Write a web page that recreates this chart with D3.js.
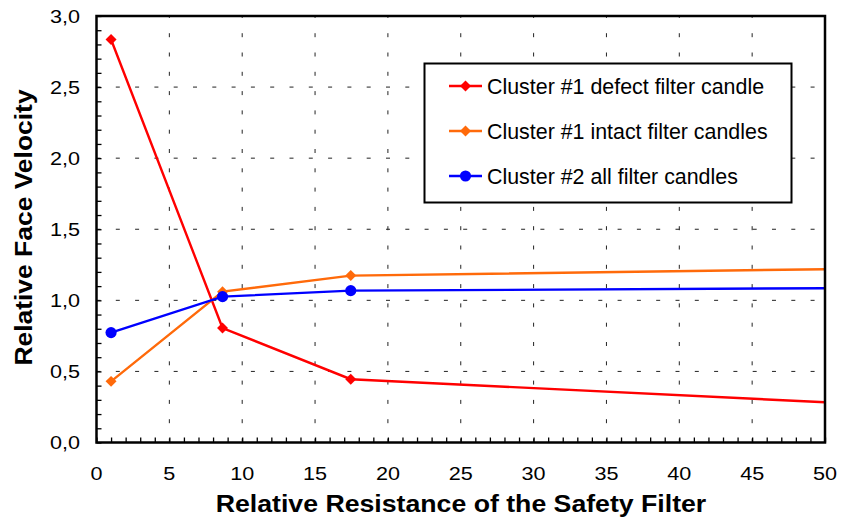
<!DOCTYPE html>
<html>
<head>
<meta charset="utf-8">
<script src="https://cdn.jsdelivr.net/npm/d3@7"></script>
<style>
  html, body { margin: 0; padding: 0; background: #fff; }
  svg { display: block; font-family: Arial, "Liberation Sans", sans-serif; }
</style>
</head>
<body>
<svg id="chart" width="841" height="531"></svg>
<script>
// Relative face velocity against relative resistance of the safety filter
const resistance = [1, 8.65, 17.45, 50];
const defectCandle = [2.835, 0.805, 0.445, 0.283];
const intactCandles = [0.43, 1.061, 1.174, 1.219];
const cluster2Candles = [0.773, 1.026, 1.068, 1.085];
const markedPoints = 3; // the last point only carries the line to the edge

const seriesNames = ["Cluster #1 defect filter candle", "Cluster #1 intact filter candles", "Cluster #2 all filter candles"];
const seriesColors = ["#ff0000", "#ff6a0a", "#0000ff"];
const seriesShapes = ["diamond", "diamond", "circle"];

const xTicks = [0, 5, 10, 15, 20, 25, 30, 35, 40, 45, 50];
const yTicks = [0, 0.5, 1.0, 1.5, 2.0, 2.5, 3.0];
const xTitle = "Relative Resistance of the Safety Filter";
const yTitle = "Relative Face Velocity";

const series = [defectCandle, intactCandles, cluster2Candles].map((vals, i) => ({
  name: seriesNames[i], color: seriesColors[i], shape: seriesShapes[i],
  points: vals.map((v, j) => ({ x: resistance[j], y: v }))
}));

const svg = d3.select("#chart");
const plot = { left: 96.5, right: 825, top: 16, bottom: 442.5 };

const x = d3.scaleLinear().domain([0, 50]).range([plot.left, plot.right]);
const y = d3.scaleLinear().domain([0, 3]).range([plot.bottom, plot.top]);

// dashed grid
const grid = svg.append("g").attr("stroke", "#222").attr("stroke-width", 1).attr("stroke-dasharray", "4,15.3");
grid.selectAll("line.v").data(xTicks.slice(1, -1)).join("line")
  .attr("x1", d => x(d)).attr("x2", d => x(d))
  .attr("y1", plot.bottom).attr("y2", plot.top);
grid.selectAll("line.h").data(yTicks.slice(1, -1)).join("line")
  .attr("y1", d => y(d)).attr("y2", d => y(d))
  .attr("x1", plot.left).attr("x2", plot.right);

// inward ticks (minor and major)
const xAxis = d3.axisBottom(x).tickValues(d3.range(0, 51, 1)).tickSize(-5).tickFormat("");
svg.append("g").attr("transform", `translate(0,${plot.bottom})`).call(xAxis)
  .call(g => g.select(".domain").remove())
  .call(g => g.selectAll("line").attr("stroke", "#000").attr("stroke-width", 1.3));
const yAxis = d3.axisLeft(y).tickValues(d3.range(0, 31, 1).map(d => d / 10)).tickSize(-5).tickFormat("");
svg.append("g").attr("transform", `translate(${plot.left},0)`).call(yAxis)
  .call(g => g.select(".domain").remove())
  .call(g => g.selectAll("line").attr("stroke", "#000").attr("stroke-width", 1.3));

// tick labels (wide face: glyphs stretched horizontally)
const fmt = d => d3.format(".1f")(d).replace(".", ",");
svg.append("g").selectAll("text").data(xTicks).join("text")
  .attr("transform", d => `translate(${x(d)},480) scale(1.2,1)`)
  .attr("text-anchor", "middle").attr("font-size", 18).text(d => d);
svg.append("g").selectAll("text").data(yTicks).join("text")
  .attr("transform", d => `translate(80,${y(d) + 6.5}) scale(1.2,1)`)
  .attr("text-anchor", "end").attr("font-size", 18).text(fmt);

// titles
svg.append("text").attr("transform", "translate(461,511.5) scale(1.145,1)").attr("text-anchor", "middle")
  .attr("font-size", 23.3).attr("font-weight", "bold").text(xTitle);
svg.append("text").attr("transform", "translate(31.5,227.5) rotate(-90) scale(1.135,1)").attr("text-anchor", "middle")
  .attr("font-size", 23.3).attr("font-weight", "bold").text(yTitle);

// series lines
svg.append("clipPath").attr("id", "plotClip").append("rect")
  .attr("x", plot.left).attr("y", plot.top)
  .attr("width", plot.right - plot.left).attr("height", plot.bottom - plot.top);
const line = d3.line().x(d => x(d.x)).y(d => y(d.y));
const lines = svg.append("g").attr("clip-path", "url(#plotClip)");
lines.selectAll("path").data(series).join("path")
  .attr("d", d => line(d.points)).attr("fill", "none")
  .attr("stroke", d => d.color).attr("stroke-width", 2.4);

// square diamond symbol, "size" is the area
const squareDiamond = {
  draw(context, size) {
    const h = Math.sqrt(size / 2);
    context.moveTo(0, -h); context.lineTo(h, 0); context.lineTo(0, h); context.lineTo(-h, 0); context.closePath();
  }
};
const diamond = d3.symbol().type(squareDiamond).size(60);
const circle = d3.symbol().type(d3.symbolCircle).size(98);
function drawMarker(sel, s) {
  sel.append("path").attr("d", s.shape === "circle" ? circle() : diamond())
    .attr("fill", s.color);
}
series.forEach(s => {
  s.points.slice(0, markedPoints).forEach(p => {
    svg.append("g").attr("transform", `translate(${x(p.x)},${y(p.y)})`).call(drawMarker, s);
  });
});

// plot frame
svg.append("rect").attr("x", plot.left).attr("y", plot.top)
  .attr("width", plot.right - plot.left).attr("height", plot.bottom - plot.top)
  .attr("fill", "none").attr("stroke", "#000").attr("stroke-width", 2.5);

// legend
const legend = svg.append("g");
legend.append("rect").attr("x", 424.5).attr("y", 63.5).attr("width", 367).attr("height", 139)
  .attr("fill", "#fff").attr("stroke", "#000").attr("stroke-width", 2);
const rowY = [86, 131, 176];
series.forEach((s, i) => {
  const g = legend.append("g").attr("transform", `translate(0,${rowY[i]})`);
  g.append("line").attr("x1", 449).attr("x2", 482).attr("y1", 0).attr("y2", 0)
    .attr("stroke", s.color).attr("stroke-width", 2.4);
  g.append("g").attr("transform", "translate(465.5,0)").call(drawMarker, s);
  g.append("text").attr("x", 487).attr("y", 8).attr("font-size", 21.4).text(s.name);
});
</script>
</body>
</html>
